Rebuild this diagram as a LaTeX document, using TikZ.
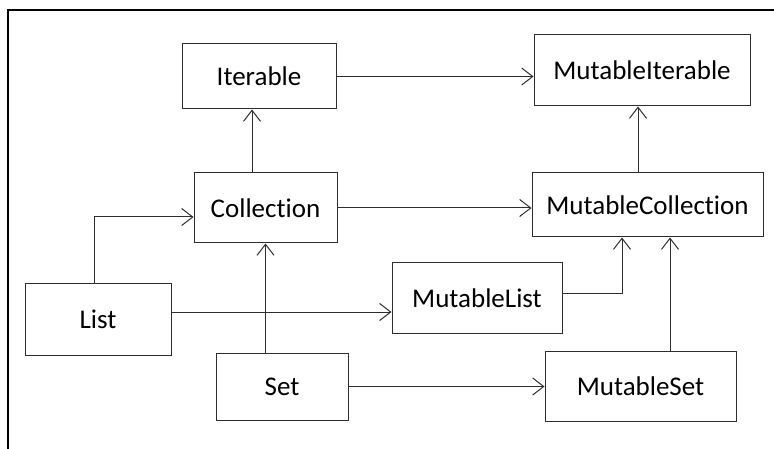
\documentclass[tikz,border=0pt]{standalone}
\usepackage{fontspec}
\setmainfont{Carlito}[Ligatures=NoCommon]
\usepackage{tikz}
\usetikzlibrary{arrows.meta, positioning, calc}
\definecolor{inkdark}{RGB}{45, 45, 45}
\tikzset{
    cls/.style ={draw=inkdark, line width=1pt, fill=white,
                 align=center, inner sep=0pt,
                 font=\fontsize{27}{32}\selectfont},
    ar/.style  ={-{Straight Barb[length=11pt, width=17pt, line width=1pt]},
                 line width=1pt, draw=inkdark},
    frm/.style ={draw=black, line width=2pt}
}

\begin{document}
\begin{tikzpicture}[x=1pt, y=-1pt]
  \useasboundingbox (0,0) rectangle (774,449);
  \draw[frm] (8,449) -- (8,10.5) -- (774,10.5);

  \node[cls, minimum width=154pt, minimum height=65pt] (iter)   at (259,76.5)   {Iterable};
  \node[cls, minimum width=216pt, minimum height=71pt] (miter)  at (642,70.5)   {MutableIterable};
  \node[cls, minimum width=143pt, minimum height=70pt] (coll)   at (265.5,208)  {Collection};
  \node[cls, minimum width=231pt, minimum height=64pt] (mcoll)  at (647.5,205)  {MutableCollection};
  \node[cls, minimum width=146pt, minimum height=72pt] (list)   at (98,319)     {List};
  \node[cls, minimum width=170pt, minimum height=70pt] (mlist)  at (477,298)    {MutableList};
  \node[cls, minimum width=132pt, minimum height=67pt] (set)    at (282,386.5)  {Set};
  \node[cls, minimum width=191pt, minimum height=70pt] (mset)   at (640.5,386)  {MutableSet};

  % read-only side
  \draw[ar] (iter.east) -- (iter.east -| miter.west);
  \draw[ar] ([xshift=-13.5pt]coll.north) -- ([xshift=-13.5pt]coll.north |- iter.south);
  \draw[ar] ([xshift=-4pt]list.north) |- ([yshift=-9pt]coll.west);
  \draw[ar] (set.north -| coll.south) -- (coll.south);

  % to the mutable side
  \draw[ar] (coll.east) -- (coll.east -| mcoll.west);
  \draw[ar] ([yshift=7pt]list.east) -- ([yshift=7pt]list.east -| mlist.west);
  \draw[ar] (set.east) -- (set.east -| mset.west);

  % mutable side
  \draw[ar] ([xshift=-9.5pt]mcoll.north) -- ([xshift=-9.5pt]mcoll.north |- miter.south);
  \draw[ar] ([yshift=5pt]mlist.east) -| ([xshift=-25.5pt]mcoll.south);
  \draw[ar] ([xshift=29.5pt]mset.north) -- ([xshift=29.5pt]mset.north |- mcoll.south);
\end{tikzpicture}
\end{document}
